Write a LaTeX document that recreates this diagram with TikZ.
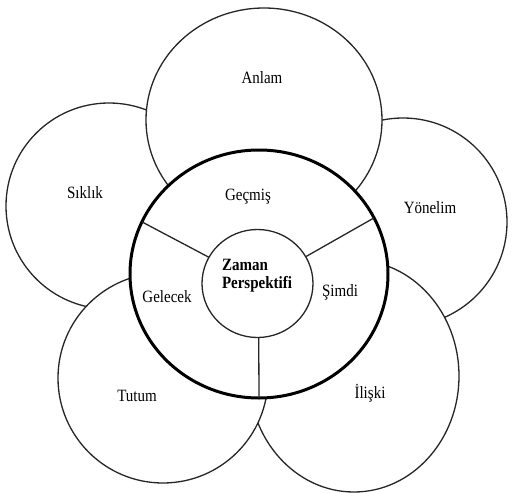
\documentclass[tikz,border=0pt]{standalone}
\usepackage{fontspec}
\usepackage{graphicx}
\setmainfont{Liberation Serif}
\usetikzlibrary{shapes.geometric}
\newcommand{\tallt}[1]{\scalebox{1}[1.15]{#1}}
\begin{document}
\begin{tikzpicture}[x=1pt,y=-1pt,
  petal/.style={ellipse,draw=black!85,line width=1.3pt,fill=white,inner sep=0pt,outer sep=0pt},
  ring/.style={ellipse,draw=black,line width=3pt,fill=white,inner sep=0pt,outer sep=0pt},
  core/.style={ellipse,draw=black!85,line width=1.3pt,fill=white,inner sep=0pt,outer sep=0pt},
  divider/.style={draw=black!85,line width=1.3pt},
  lbl/.style={font=\fontsize{15}{16}\selectfont,text=black,inner sep=0pt},
  blbl/.style={font=\fontsize{15}{16}\selectfont\bfseries,text=black,inner sep=0pt}]
\useasboundingbox (0,0) rectangle (515,493);
\fill[white] (0,0) rectangle (515,493);
% petals
\node[petal,minimum width=206pt,minimum height=206pt] (siklik) at (109,206) {};
\node[petal,minimum width=208pt,minimum height=208pt] (yonelim) at (403,222) {};
\node[petal,minimum width=236pt,minimum height=224pt] (anlam) at (264,120) {};
\node[petal,minimum width=210pt,minimum height=232pt] (iliski) at (354,376) {};
\node[petal,minimum width=210pt,minimum height=210pt] (tutum) at (163,378) {};
% central ring
\node[ring,minimum width=258pt,minimum height=248pt] (mid) at (259,274) {};
\coordinate (hub) at (258.5,283.5);
\draw[divider] (mid.156) -- (hub);
\draw[divider] (mid.26) -- (hub);
\draw[divider] (mid.-90) -- (hub);
\node[core,minimum width=111pt,minimum height=108pt] (inner) at (257.5,283.5) {};
% labels
\node[lbl] (tAnlam) at (262,78) {\tallt{Anlam}};
\node[lbl] (tSiklik) at (85,193) {\tallt{Sıklık}};
\node[lbl] (tYonelim) at (430,208) {\tallt{Yönelim}};
\node[lbl] (tGecmis) at (248,197) {\tallt{Geçmiş}};
\node[lbl] (tGelecek) at (167,297) {\tallt{Gelecek}};
\node[lbl] (tSimdi) at (340,292) {\tallt{Şimdi}};
\node[lbl] (tTutum) at (137,396) {\tallt{Tutum}};
\node[lbl] (tIliski) at (370,393) {\tallt{İlişki}};
\node[blbl] (tZaman) at (257,276) {\tallt{\begin{tabular}{@{}l@{}}Zaman\\Perspektifi\end{tabular}}};
\end{tikzpicture}
\end{document}
